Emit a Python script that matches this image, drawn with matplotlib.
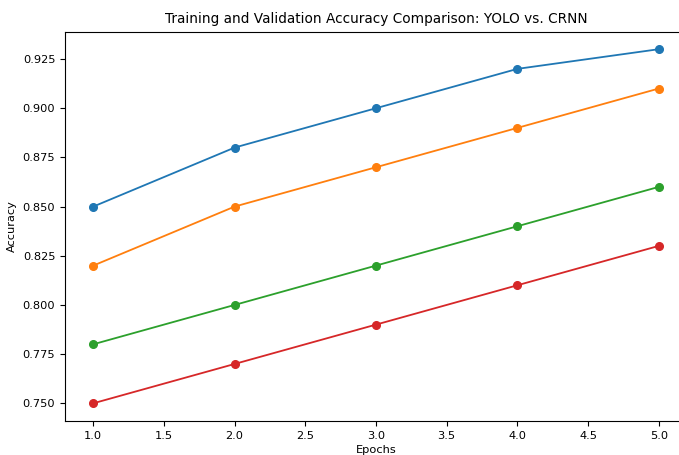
import matplotlib
matplotlib.use("Agg")
import matplotlib.pyplot as plt

epochs = [1, 2, 3, 4, 5]
yolo_train_acc = [0.85, 0.88, 0.90, 0.92, 0.93]
yolo_val_acc = [0.82, 0.85, 0.87, 0.89, 0.91]
crnn_train_acc = [0.78, 0.80, 0.82, 0.84, 0.86]
crnn_val_acc = [0.75, 0.77, 0.79, 0.81, 0.83]

series = [
    ("YOLO Training Accuracy", yolo_train_acc),
    ("YOLO Validation Accuracy", yolo_val_acc),
    ("CRNN Training Accuracy", crnn_train_acc),
    ("CRNN Validation Accuracy", crnn_val_acc),
]

W, H = 679, 455
fig = plt.figure(figsize=(W / 100, H / 100), dpi=100)
# axes runs a little past the right edge, as in the cropped reference
ax = fig.add_axes([65 / W, 1 - 421 / H, (687 - 65) / W, (421 - 31.5) / H])

for label, vals in series:
    ax.plot(epochs, vals, marker="o", label=label, linewidth=1.3, markersize=5.5)

ax.set_title("Training and Validation Accuracy Comparison: YOLO vs. CRNN", fontsize=9.8)
ax.set_xlabel("Epochs", fontsize=8.2, labelpad=3)
ax.set_ylabel("Accuracy", fontsize=8.2)
ax.tick_params(labelsize=8.2)

fig.savefig("out.png", dpi=100)
